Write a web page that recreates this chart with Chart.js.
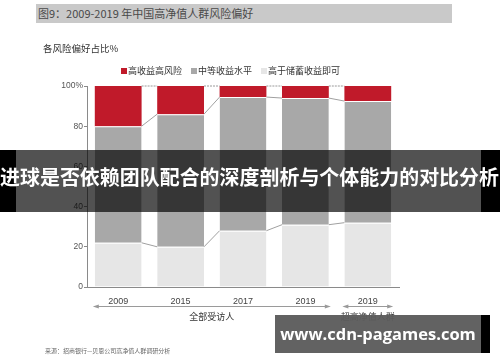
<!DOCTYPE html>
<html>
<head>
<meta charset="utf-8">
<script src="https://cdn.jsdelivr.net/npm/chart.js@4.4.1/dist/chart.umd.min.js"></script>
<style>
  html, body { margin: 0; padding: 0; background: #fff; }
  body { width: 500px; height: 362px; position: relative; overflow: hidden;
         font-family: "Noto Sans CJK SC", "Noto Sans", sans-serif; }
  #wrap { position: absolute; left: 0; top: 0; width: 500px; height: 362px; }
  .abs { position: absolute; white-space: nowrap; }
  #title { left: 36px; top: 4px; width: 416px; height: 19px; background: #c9c9c9;
           font-size: 11px; line-height: 19px; color: #4a4a4a; padding-left: 2px; box-sizing: border-box; }
  #unit { left: 43px; top: 41px; font-size: 9.5px; color: #333; }
  .leg { top: 65px; font-size: 9px; color: #333; line-height: 12px; }
  .leg i { display: inline-block; width: 6px; height: 6px; margin-right: 1px; vertical-align: 0px; }
  #src { left: 45px; top: 346px; font-size: 6px; color: #666; }
  #band { left: 0; top: 150px; width: 500px; height: 62px; background: rgba(0,0,0,0.68); }
  #bandL { left: 0; top: 150px; width: 16px; height: 62px; background: #000; }
  #bandR { left: 481px; top: 150px; width: 19px; height: 62px; background: #000; }
  #bandTxt { left: 0; top: 163px; font-size: 20.5px; font-weight: bold; transform-origin: 0 50%;
             color: #fff; line-height: 26px; letter-spacing: 0; }
  #wm { left: 275px; top: 315px; width: 206px; height: 38px; background: rgba(92,92,92,0.96); }
  #wmEdge { left: 481px; top: 315px; width: 9px; height: 38px; background: #000; }
  #wmTxt { left: 275px; top: 320px; width: 206px; text-align: center; font-family: "Open Sans", "DejaVu Sans", sans-serif;
           font-weight: bold; font-size: 16.5px; color: #fff; line-height: 28px; }
</style>
</head>
<body>
<div id="wrap"><canvas id="c" width="500" height="362"></canvas></div>
<div class="abs" id="title">图9：2009-2019 年中国高净值人群风险偏好</div>
<div class="abs" id="unit">各风险偏好占比%</div>
<div class="abs leg" style="left:121px"><i style="background:#c01a2a"></i>高收益高风险</div>
<div class="abs leg" style="left:191px"><i style="background:#a8a8a8"></i>中等收益水平</div>
<div class="abs leg" style="left:261px"><i style="background:#e6e6e6"></i>高于储蓄收益即可</div>
<div class="abs" id="src">来源：招商银行—贝恩公司高净值人群调研分析</div>
<div class="abs" id="band"></div>
<div class="abs" id="bandL"></div>
<div class="abs" id="bandR"></div>
<div class="abs" id="bandTxt">进球是否依赖团队配合的深度剖析与个体能力的对比分析</div>
<div class="abs" id="wm"></div>
<div class="abs" id="wmEdge"></div>
<div class="abs" id="wmTxt">www.cdn-pagames.com</div>
<script>
// categories and series (percent of respondents)
const years = ['2009', '2015', '2017', '2019', '2019'];
const lowRisk = [22, 20, 28, 31, 32];       // 高于储蓄收益即可
const midRisk = [58, 66, 66.5, 63, 60.5];   // 中等收益水平
const highRisk = [20, 14, 5.5, 6, 7.5];     // 高收益高风险
const yTicks = [0, 20, 40, 60, 80, 100];
// groups under the x axis
const groupLabels = ['全部受访人', '超高净值人群'];
const groupSpans = [[0, 3], [4, 4]];

const fontCJK = '"Noto Sans CJK SC", "Noto Sans", sans-serif';

// banner text fills the full width
const band = document.getElementById('bandTxt');
const bw = band.getBoundingClientRect().width;
if (bw > 0) band.style.transform = 'scaleX(' + (499 / bw) + ')';

// thin connector lines between bars at each stack boundary
const connectors = {
  id: 'connectors',
  afterDatasetsDraw(chart) {
    const ctx = chart.ctx;
    const metas = [0, 1, 2].map(i => chart.getDatasetMeta(i));
    ctx.save();
    ctx.lineWidth = 1;
    metas.forEach((meta, d) => {
      const els = meta.data;
      for (let i = 0; i < els.length - 1; i++) {
        const a = els[i], b = els[i + 1];
        ctx.strokeStyle = d === 2 ? '#9a9a9a' : '#a0a0a0';
        ctx.setLineDash(d === 2 ? [2, 1] : []);
        ctx.beginPath();
        ctx.moveTo(a.x + a.width / 2, a.y);
        ctx.lineTo(b.x - b.width / 2, b.y);
        ctx.stroke();
      }
    });
    ctx.restore();
  }
};

// bracket arrows and group names below the categories
const groups = {
  id: 'groups',
  afterDraw(chart) {
    const ctx = chart.ctx;
    const meta = chart.getDatasetMeta(0);
    const yy = 306;
    ctx.save();
    ctx.lineWidth = 1;
    groupSpans.forEach((sp, g) => {
      const x0 = meta.data[sp[0]].x - meta.data[sp[0]].width / 2 - 2;
      const x1 = meta.data[sp[1]].x + meta.data[sp[1]].width / 2 + 2;
      ctx.strokeStyle = '#9a9a9a';
      ctx.fillStyle = '#9a9a9a';
      ctx.beginPath();
      ctx.moveTo(x0 + 4, yy + 0.5);
      ctx.lineTo(x1 - 4, yy + 0.5);
      ctx.stroke();
      [[x0, 1], [x1, -1]].forEach(([x, dir]) => {
        ctx.beginPath();
        ctx.moveTo(x, yy + 0.5);
        ctx.lineTo(x + 6 * dir, yy - 1.5);
        ctx.lineTo(x + 6 * dir, yy + 2.5);
        ctx.closePath();
        ctx.fill();
      });
      ctx.fillStyle = '#333';
      ctx.font = '9px ' + fontCJK;
      ctx.textAlign = 'center';
      ctx.textBaseline = 'middle';
      ctx.fillText(groupLabels[g], (x0 + x1) / 2, yy + 11);
    });
    ctx.restore();
  }
};

const segBorder = { top: 1, bottom: 0, left: 0, right: 0 };

new Chart(document.getElementById('c'), {
  type: 'bar',
  data: {
    labels: years,
    datasets: [
      { label: '高于储蓄收益即可', data: lowRisk, backgroundColor: '#e6e6e6', borderColor: '#fff', borderWidth: segBorder, borderSkipped: false },
      { label: '中等收益水平', data: midRisk, backgroundColor: '#a8a8a8', borderColor: '#fff', borderWidth: segBorder, borderSkipped: false },
      { label: '高收益高风险', data: highRisk, backgroundColor: '#c01a2a', borderWidth: 0 }
    ]
  },
  options: {
    responsive: false,
    animation: false,
    devicePixelRatio: 1,
    layout: { padding: { left: 0, top: 86, right: 101, bottom: 0 } },
    plugins: { legend: { display: false }, tooltip: { enabled: false } },
    datasets: { bar: { categoryPercentage: 0.75, barPercentage: 1 } },
    scales: {
      x: {
        stacked: true,
        grid: { display: false },
        border: { display: true, color: '#8a8a8a', width: 1 },
        ticks: { color: '#444', font: { size: 9, family: 'Liberation Sans, Arial, sans-serif' }, padding: 1 },
        afterFit(s) { s.height = 75; }
      },
      y: {
        stacked: true,
        min: 0,
        max: 100,
        afterBuildTicks(s) { s.ticks = yTicks.map(v => ({ value: v })); },
        grid: { display: true, drawOnChartArea: false, tickLength: 3, color: '#8a8a8a' },
        border: { display: true, color: '#8a8a8a', width: 1 },
        ticks: {
          color: '#555', padding: 1,
          font: { size: 8.5, family: 'Liberation Sans, Arial, sans-serif' },
          callback: v => v === 100 ? '100%' : String(v)
        },
        afterFit(s) { s.width = 87; }
      }
    }
  },
  plugins: [connectors, groups]
});
</script>
</body>
</html>
